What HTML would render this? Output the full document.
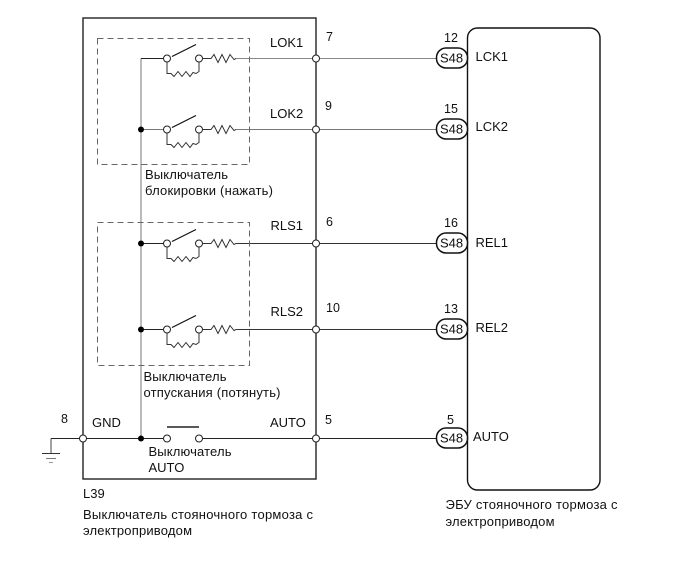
<!DOCTYPE html>
<html><head><meta charset="utf-8"><style>
html,body{margin:0;padding:0;background:#fff;width:691px;height:564px;overflow:hidden}
svg{display:block}
text{font-family:"Liberation Sans",sans-serif;font-size:13px;fill:#111}
text.n{font-size:12.5px}
</style></head><body>
<svg width="691" height="564" viewBox="0 0 691 564" xmlns="http://www.w3.org/2000/svg">
<defs>
<g id="sw" fill="none">
<path d="M172 -2L196 -14" stroke="#111" stroke-width="1.2"/>
<path d="M167 3V15H171L174 18L178 13L182 18L186 13L190 18L193 14L196 15L199 13V3" stroke="#333" stroke-width="1"/>
<path d="M203 0H211L214 -4L218 4L222 -4L226 4L230 -4L234 1L236 0" stroke="#333" stroke-width="1"/>
<circle cx="167" cy="0" r="3.5" fill="#fff" stroke="#222"/>
<circle cx="199" cy="0" r="3.5" fill="#fff" stroke="#222"/>
</g>
<g id="pill"><rect x="436.5" y="-10" width="31" height="20" rx="9.5" fill="#fff" stroke="#111" stroke-width="1.5"/><text x="440" y="4.5">S48</text></g>
</defs>

<!-- connecting wires -->
<g fill="none" stroke-width="1">
<path d="M141 58.5V438" stroke="#777"/>
<path d="M141 58.5H164" stroke="#222"/>
<path d="M141 129.5H164" stroke="#777"/>
<path d="M141 243.5H164" stroke="#222"/>
<path d="M141 329.5H164" stroke="#222"/>
<path d="M236 58.5H437" stroke="#888"/>
<path d="M236 129.5H437" stroke="#777"/>
<path d="M236 243.5H437" stroke="#333"/>
<path d="M236 329.5H437" stroke="#333"/>
<path d="M51 438.5H164M202 438.5H437" stroke="#222"/>
<path d="M51 438.5V453" stroke="#444"/>
<path d="M42 453.5H60" stroke="#333"/>
<path d="M46 458.5H56" stroke="#777"/>
<path d="M49 462.5H53" stroke="#999"/>
</g>

<!-- boxes -->
<rect x="83" y="18" width="233" height="461" fill="none" stroke="#222" stroke-width="1.4"/>
<rect x="467.5" y="28" width="132.5" height="462" rx="10" fill="none" stroke="#111" stroke-width="1.4"/>
<rect x="97.5" y="38.5" width="152" height="126" fill="none" stroke="#666" stroke-dasharray="6 4"/>
<rect x="97.5" y="222.5" width="152" height="143" fill="none" stroke="#666" stroke-dasharray="6 4"/>

<!-- switches -->
<use href="#sw" y="58.5"/>
<use href="#sw" y="129.5"/>
<use href="#sw" y="243.5"/>
<use href="#sw" y="329.5"/>

<!-- AUTO switch -->
<path d="M167 427H199" stroke="#222" stroke-width="1.4"/>
<circle cx="167" cy="438.5" r="3.5" fill="#fff" stroke="#222"/>
<circle cx="199" cy="438.5" r="3.5" fill="#fff" stroke="#222"/>

<!-- junction dots -->
<g fill="#000">
<circle cx="141" cy="129.5" r="3"/>
<circle cx="141" cy="243.5" r="3"/>
<circle cx="141" cy="329.5" r="3"/>
<circle cx="141" cy="438.5" r="3"/>
</g>
<g fill="#fff" stroke="#222">
<circle cx="316" cy="58.5" r="3.5"/>
<circle cx="316" cy="129.5" r="3.5"/>
<circle cx="316" cy="243.5" r="3.5"/>
<circle cx="316" cy="329.5" r="3.5"/>
<circle cx="316" cy="438.5" r="3.5"/>
<circle cx="83" cy="438.5" r="3.5"/>
</g>

<!-- connectors -->
<use href="#pill" y="58"/>
<use href="#pill" y="129"/>
<use href="#pill" y="243"/>
<use href="#pill" y="329"/>
<use href="#pill" y="438"/>

<!-- labels -->
<text x="270" y="47">LOK1</text>
<text x="270" y="118">LOK2</text>
<text x="270.5" y="230">RLS1</text>
<text x="270.5" y="316">RLS2</text>
<text x="270" y="427">AUTO</text>
<text x="92" y="427">GND</text>
<text class="n" x="326" y="41">7</text>
<text class="n" x="325" y="110">9</text>
<text class="n" x="326" y="226">6</text>
<text class="n" x="326" y="312">10</text>
<text class="n" x="325" y="424">5</text>
<text class="n" x="61" y="423">8</text>
<text class="n" x="444" y="42">12</text>
<text class="n" x="444" y="113">15</text>
<text class="n" x="444" y="227">16</text>
<text class="n" x="444" y="313">13</text>
<text class="n" x="447" y="424">5</text>
<text x="475.5" y="61">LCK1</text>
<text x="475.5" y="131">LCK2</text>
<text x="475.5" y="247">REL1</text>
<text x="475.5" y="332">REL2</text>
<text x="473" y="441">AUTO</text>
<text x="145" y="179" textLength="83">Выключатель</text>
<text x="145" y="195" textLength="128">блокировки (нажать)</text>
<text x="143.5" y="381" textLength="83">Выключатель</text>
<text x="143.5" y="397" textLength="137">отпускания (потянуть)</text>
<text x="148.5" y="456" textLength="83">Выключатель</text>
<text x="148.5" y="472">AUTO</text>
<text x="83" y="498">L39</text>
<text x="83" y="519" textLength="230">Выключатель стояночного тормоза с</text>
<text x="83" y="535" textLength="109">электроприводом</text>
<text x="445.5" y="509" textLength="172">ЭБУ стояночного тормоза с</text>
<text x="445.5" y="526" textLength="109">электроприводом</text>
</svg>
</body></html>
